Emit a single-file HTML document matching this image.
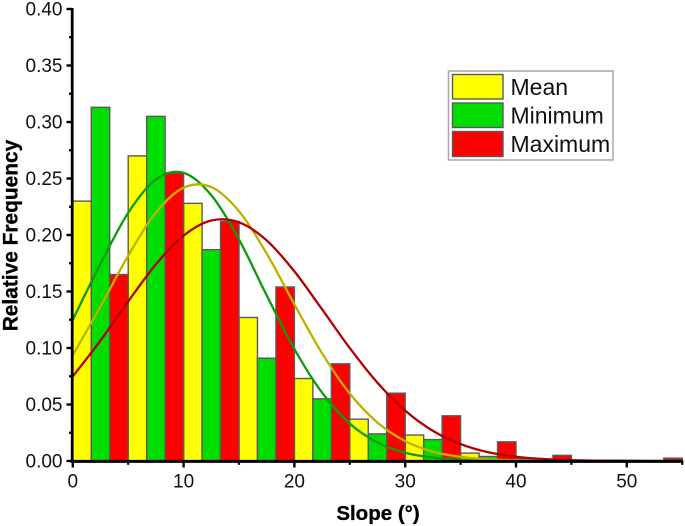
<!DOCTYPE html>
<html>
<head>
<meta charset="utf-8">
<title>Relative Frequency of Slope</title>
<style>
html,body{margin:0;padding:0;background:#fff;width:685px;height:526px;overflow:hidden}
svg{display:block;font-family:"Liberation Sans",Arial,sans-serif;filter:blur(0.35px)}
</style>
</head>
<body>
<svg id="chart" width="685" height="526" viewBox="0 0 685 526" xmlns="http://www.w3.org/2000/svg">
  <g id="bars"></g>
  <g id="curves"></g>
  <g id="axes"></g>
  <text x="378" y="520" text-anchor="middle" font-size="20.5" font-weight="bold" fill="#000" stroke="#000" stroke-width="0.3">Slope (°)</text>
  <text transform="translate(17.5,235.5) rotate(-90)" text-anchor="middle" font-size="20.9" font-weight="bold" fill="#000" stroke="#000" stroke-width="0.3">Relative Frequency</text>
  <g>
    <rect x="448.5" y="71" width="164.5" height="89" fill="#fff" stroke="#a8a8a8" stroke-width="1.5"/>
    <rect x="452.5" y="74.5" width="50.5" height="24.5" fill="#ffff00" stroke="#5a5a5a" stroke-width="1.4"/>
    <rect x="452.5" y="103" width="50.5" height="24.5" fill="#00dd00" stroke="#5a5a5a" stroke-width="1.4"/>
    <rect x="452.5" y="131.5" width="50.5" height="25" fill="#ff0000" stroke="#5a5a5a" stroke-width="1.4"/>
    <text x="510.5" y="95" font-size="23" fill="#111">Mean</text>
    <text x="510.5" y="123.5" font-size="23" fill="#111">Minimum</text>
    <text x="510.5" y="152" font-size="23" fill="#111">Maximum</text>
  </g>
</svg>
<script>
const binStarts = [0, 5, 10, 15, 20, 25, 30, 35, 40, 45, 50];
const binSize = 5;
const meanValues = [0.230, 0.270, 0.228, 0.127, 0.073, 0.037, 0.023, 0.007, 0.002, 0.0005, 0];
const minimumValues = [0.313, 0.305, 0.187, 0.091, 0.055, 0.024, 0.019, 0.004, 0.001, 0, 0];
const maximumValues = [0.165, 0.255, 0.212, 0.154, 0.086, 0.060, 0.040, 0.017, 0.005, 0.0007, 0.0025];

const curveX = [0, 2.5, 5, 7.5, 10, 12.5, 15, 17.5, 20, 22.5, 25, 27.5, 30, 32.5, 35, 37.5, 40, 42.5, 45, 47.5, 50, 52.5, 55];
const meanCurve = [0.0937, 0.1368, 0.1817, 0.2198, 0.2419, 0.2424, 0.2210, 0.1835, 0.1386, 0.0953, 0.0596, 0.0340, 0.0176, 0.0083, 0.0036, 0.0014, 0.0005, 0.0002, 0, 0, 0, 0, 0];
const minimumCurve = [0.1250, 0.1745, 0.2197, 0.2492, 0.2550, 0.2352, 0.1960, 0.1466, 0.0991, 0.0604, 0.0331, 0.0164, 0.0073, 0.0030, 0.0011, 0.0004, 0.0001, 0, 0, 0, 0, 0, 0];
const maximumCurve = [0.0749, 0.1066, 0.1412, 0.1740, 0.1994, 0.2128, 0.2112, 0.1952, 0.1678, 0.1342, 0.0999, 0.0692, 0.0446, 0.0267, 0.0150, 0.0077, 0.0038, 0.0017, 0.0007, 0.0003, 0.0001, 0, 0];

const yTickValues = [0, 0.05, 0.10, 0.15, 0.20, 0.25, 0.30, 0.35, 0.40];
const yTickLabels = ['0.00', '0.05', '0.10', '0.15', '0.20', '0.25', '0.30', '0.35', '0.40'];
const yMinorTicks = [0.025, 0.075, 0.125, 0.175, 0.225, 0.275, 0.325, 0.375];
const xTickValues = [0, 10, 20, 30, 40, 50];
const xTickLabels = ['0', '10', '20', '30', '40', '50'];
const xMinorTicks = [5, 15, 25, 35, 45, 55];

const NS = 'http://www.w3.org/2000/svg';
function xScale(v) { return 72.8 + v * 11.08; }
function yScale(v) { return 461 - v * 1130; }
function make(tag, attrs, parent) {
  const el = document.createElementNS(NS, tag);
  for (const k in attrs) el.setAttribute(k, attrs[k]);
  parent.appendChild(el);
  return el;
}

const barsGroup = document.getElementById('bars');
function drawBars(values, slot, fill, label) {
  values.forEach(function (v, i) {
    const x0 = xScale(binStarts[i] + slot * binSize / 3);
    const x1 = xScale(binStarts[i] + (slot + 1) * binSize / 3);
    if (v <= 0) return;
    const bar = make('rect', { x: x0, y: yScale(v), width: x1 - x0, height: yScale(0) - yScale(v), fill: fill, stroke: '#5a5a5a', 'stroke-width': 1.4 }, barsGroup);
    
    
  });
}
drawBars(meanValues, 0, '#ffff00', 'mean');
drawBars(minimumValues, 1, '#00dd00', 'minimum');
drawBars(maximumValues, 2, '#ff0000', 'maximum');

const curvesGroup = document.getElementById('curves');
function drawCurve(xs, ys, stroke, label) {
  const pts = xs.map(function (x, i) { return [xScale(x), yScale(ys[i])]; });
  let d = 'M' + pts[0][0] + ' ' + pts[0][1];
  for (let i = 0; i < pts.length - 1; i++) {
    const p0 = pts[Math.max(i - 1, 0)], p1 = pts[i], p2 = pts[i + 1], p3 = pts[Math.min(i + 2, pts.length - 1)];
    const c1x = p1[0] + (p2[0] - p0[0]) / 6, c1y = p1[1] + (p2[1] - p0[1]) / 6;
    const c2x = p2[0] - (p3[0] - p1[0]) / 6, c2y = p2[1] - (p3[1] - p1[1]) / 6;
    d += 'C' + c1x + ' ' + c1y + ' ' + c2x + ' ' + c2y + ' ' + p2[0] + ' ' + p2[1];
  }
  const path = make('path', { d: d, fill: 'none', stroke: stroke, 'stroke-width': 2.3 }, curvesGroup);
  
  
}
drawCurve(curveX, minimumCurve, '#0f9a0f', 'minimum');
drawCurve(curveX, meanCurve, '#bdb000', 'mean');
drawCurve(curveX, maximumCurve, '#b00000', 'maximum');

const axesGroup = document.getElementById('axes');
const yAxisLine = make('line', { x1: xScale(0) - 0.6, x2: xScale(0) - 0.6, y1: yScale(0.4) - 1, y2: yScale(0) + 1.5, stroke: '#000', 'stroke-width': 2.8 }, axesGroup);


const xAxisLine = make('line', { x1: xScale(0) - 2, x2: xScale(55) + 1, y1: yScale(0) + 0.4, y2: yScale(0) + 0.4, stroke: '#000', 'stroke-width': 3 }, axesGroup);



yTickValues.forEach(function (v, i) {
  const y = yScale(v);
  const tick = make('line', { x1: 66.5, x2: 72, y1: y, y2: y, stroke: '#000', 'stroke-width': 2.4 }, axesGroup);
  
  
  const label = make('text', { x: 62.5, y: y + 6.6, 'text-anchor': 'end', 'font-size': 19, fill: '#111' }, axesGroup);
  label.textContent = yTickLabels[i];
  
  
});
yMinorTicks.forEach(function (v) {
  const y = yScale(v);
  const tick = make('line', { x1: 69, x2: 72, y1: y, y2: y, stroke: '#000', 'stroke-width': 2.2 }, axesGroup);
  
  
});
xTickValues.forEach(function (v, i) {
  const x = xScale(v);
  const tick = make('line', { x1: x, x2: x, y1: 461, y2: 467.5, stroke: '#000', 'stroke-width': 2.4 }, axesGroup);
  
  
  const label = make('text', { x: x, y: 487.5, 'text-anchor': 'middle', 'font-size': 19, fill: '#111' }, axesGroup);
  label.textContent = xTickLabels[i];
  
  
});
xMinorTicks.forEach(function (v) {
  const x = xScale(v);
  const tick = make('line', { x1: x, x2: x, y1: 461, y2: 464.8, stroke: '#000', 'stroke-width': 2.2 }, axesGroup);
  
  
});
</script>
</body>
</html>
